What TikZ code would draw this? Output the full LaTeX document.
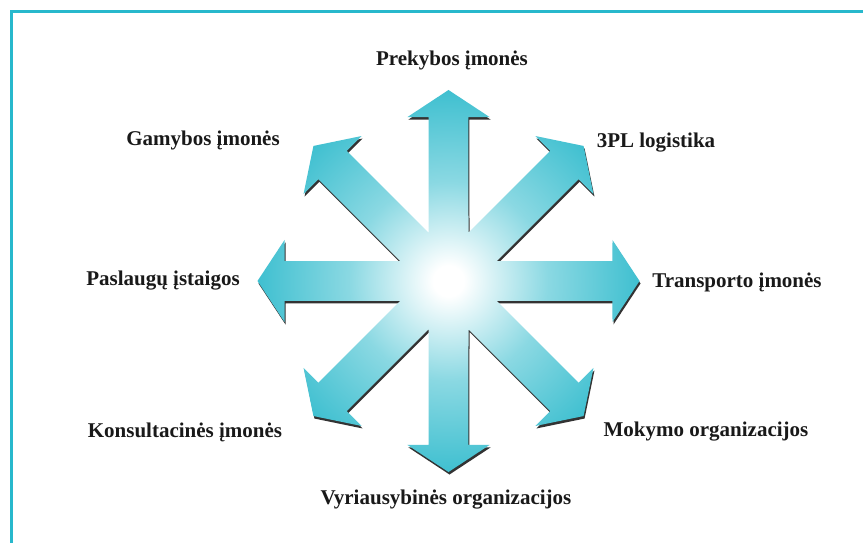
\documentclass[tikz,border=0pt]{standalone}
\usepackage{fontspec}
\setmainfont{Liberation Serif}
\definecolor{tealA}{RGB}{22,178,198}
\definecolor{frameC}{RGB}{40,184,204}
\colorlet{tealB}{tealA!50!white}
\colorlet{tealC}{tealA!85!white}
\pgfdeclareradialshading{starshade}{\pgfpoint{0bp}{0bp}}{color(0bp)=(white); color(2bp)=(white); color(13bp)=(tealB); color(26bp)=(tealC); color(37bp)=(tealA); color(50bp)=(tealA)}
\def\mystarpath{(-22.5:52.26) \foreach \a in {0,45,...,315}{ -- (\a-22.5:52.26) -- (\a-6.95:165.2) -- (\a-14.04:169.05) -- (\a:191) -- (\a+14.04:169.05) -- (\a+6.95:165.2) } -- cycle}
\begin{document}
\begin{tikzpicture}[x=1pt,y=-1pt,
  lbl/.style={font=\fontsize{21}{25}\selectfont\bfseries, text=black!90, inner sep=0pt}]
\useasboundingbox (0,0) rectangle (863,543);
\fill[white] (0,0) rectangle (863,543);
\draw[frameC, line width=3pt] (11,543) -- (11,12) -- (863,12);
\begin{scope}[shift={(449.5,283.5)}]
  \fill[black!80] \mystarpath;
\end{scope}
\begin{scope}[shift={(448.5,281)}]
  \shade[shading=starshade] \mystarpath;
\end{scope}
\node[lbl] (prek) at (452,60) {Prekybos įmonės};
\node[lbl] (gam) at (203,140) {Gamybos įmonės};
\node[lbl] (tpl) at (656,143) {3PL logistika};
\node[lbl] (pasl) at (163,281) {Paslaugų įstaigos};
\node[lbl] (trans) at (737,282) {Transporto įmonės};
\node[lbl] (kons) at (185,432) {Konsultacinės įmonės};
\node[lbl] (mok) at (706,432) {Mokymo organizacijos};
\node[lbl] (vyr) at (446,500) {Vyriausybinės organizacijos};
\end{tikzpicture}
\end{document}
